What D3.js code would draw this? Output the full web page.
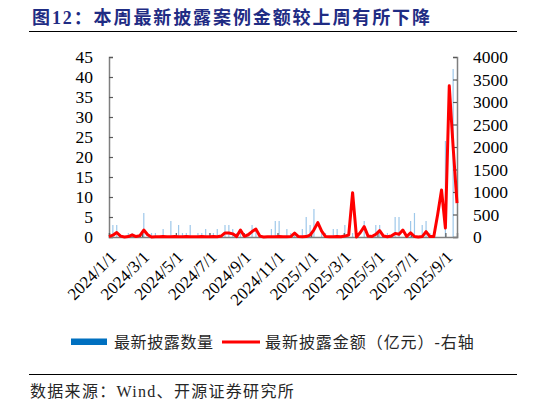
<!DOCTYPE html>
<html>
<head>
<meta charset="utf-8">
<script src="https://cdn.jsdelivr.net/npm/d3@7"></script>
<style>
  html, body { margin: 0; padding: 0; background: #fff; }
  svg { display: block; }
</style>
</head>
<body>
<svg id="chart" width="546" height="405"></svg>
<script>
// weekly data, first week starting 2024/1/1
const startDate = new Date(2024, 0, 1);
const weekCount = 91;

// 最新披露数量 (left axis)
const counts = [
  0, 3, 3, 0, 0, 1, 1, 0, 0, 6,
  0, 1, 1, 0, 2, 0, 4, 0, 3, 1,
  1, 3, 0, 1, 1, 2, 1, 1, 2, 0,
  3, 3, 2, 1, 2, 1, 0, 3, 2, 0,
  0, 0, 2, 4, 4, 0, 2, 1, 1, 0,
  2, 5, 3, 7, 0, 1, 1, 0, 2, 2,
  0, 3, 0, 1, 0, 0, 4, 0, 0, 3,
  3, 0, 1, 0, 5, 5, 0, 0, 4, 6,
  0, 3, 4, 1, 1, 0, 0, 24, 0, 42,
  0
];

// 最新披露金额（亿元） (right axis)
const amounts = [
  10, 40, 100, 20, 0, 10, 45, 10, 30, 155,
  50, 0, 5, 5, 10, 5, 5, 10, 5, 5,
  10, 5, 5, 5, 10, 5, 5, 10, 5, 20,
  90, 90, 70, 10, 155, 15, 50, 120, 175, 20,
  0, 5, 5, 5, 10, 5, 5, 10, 85, 10,
  5, 10, 40, 160, 320, 130, 10, 5, 5, 10,
  5, 20, 45, 985, 0, 100, 230, 20, 10, 60,
  140, 20, 5, 20, 80, 60, 155, 10, 95, 10,
  0, 10, 120, 10, 10, 500, 1045, 200, 3360, 2000,
  755
];

const leftTicks = [0, 5, 10, 15, 20, 25, 30, 35, 40, 45];
const rightTicks = [0, 500, 1000, 1500, 2000, 2500, 3000, 3500, 4000];
const dateTicks = [
  "2024/1/1", "2024/3/1", "2024/5/1", "2024/7/1", "2024/9/1", "2024/11/1",
  "2025/1/1", "2025/3/1", "2025/5/1", "2025/7/1", "2025/9/1"
];

const titleText = "图12：本周最新披露案例金额较上周有所下降";
const sourceText = "数据来源：Wind、开源证券研究所";
const legendBar = "最新披露数量";
const legendLine = "最新披露金额（亿元）-右轴";

const weeks = d3.timeMonday.range(startDate, d3.timeMonday.offset(startDate, weekCount));
const parseTick = d3.timeParse("%Y/%m/%d");

const svg = d3.select("#chart");
const font = "'Liberation Serif','Noto Sans CJK SC',serif";

const margin = { left: 109, right: 457, top: 57, bottom: 237 };

const x = d3.scaleTime()
  .domain([weeks[0], weeks[weeks.length - 1]])
  .range([margin.left, margin.right]);
const yLeft = d3.scaleLinear().domain([0, 45]).range([margin.bottom, margin.top]);
const yRight = d3.scaleLinear().domain([0, 4000]).range([margin.bottom, margin.top]);

// title + rule
svg.append("text")
  .attr("x", 32).attr("y", 24)
  .attr("font-family", font)
  .attr("font-weight", "bold")
  .attr("font-size", 18)
  .attr("letter-spacing", 1.9)
  .attr("fill", "#1f2c84")
  .text(titleText);

svg.append("line")
  .attr("x1", 29).attr("x2", 517)
  .attr("y1", 31.5).attr("y2", 31.5)
  .attr("stroke", "#000").attr("stroke-width", 1);

// bars
svg.append("g")
  .selectAll("rect")
  .data(counts)
  .join("rect")
  .attr("x", (d, i) => x(weeks[i]) - 0.6)
  .attr("width", 1.2)
  .attr("y", d => yLeft(d))
  .attr("height", d => yLeft(0) - yLeft(d))
  .attr("fill", "#9ec8ea");

// axes
const axisColor = "#7f7f7f";

const leftAxis = svg.append("g")
  .attr("transform", `translate(${margin.left},0)`)
  .call(d3.axisRight(yLeft).tickValues(leftTicks).tickSize(4).tickFormat(""));
const rightAxis = svg.append("g")
  .attr("transform", `translate(${margin.right},0)`)
  .call(d3.axisLeft(yRight).tickValues(rightTicks).tickSize(4).tickFormat(""));
const bottomAxis = svg.append("g")
  .attr("transform", `translate(0,${margin.bottom})`)
  .call(d3.axisTop(x).tickValues(dateTicks.map(parseTick)).tickSize(4).tickFormat(""));

[leftAxis, rightAxis, bottomAxis].forEach(g => {
  g.select(".domain").attr("stroke", axisColor).attr("stroke-width", 1.5);
  g.selectAll(".tick line").attr("stroke", "#595959").attr("stroke-width", 1.2);
});

svg.append("g")
  .selectAll("text")
  .data(leftTicks)
  .join("text")
  .attr("x", 93)
  .attr("y", d => yLeft(d))
  .attr("dy", "0.35em")
  .attr("text-anchor", "end")
  .attr("font-family", font)
  .attr("font-size", 17.5)
  .attr("fill", "#000")
  .text(d => d);

svg.append("g")
  .selectAll("text")
  .data(rightTicks)
  .join("text")
  .attr("x", 473)
  .attr("y", d => yRight(d))
  .attr("dy", "0.35em")
  .attr("font-family", font)
  .attr("font-size", 17.5)
  .attr("fill", "#000")
  .text(d => d);

svg.append("g")
  .selectAll("text")
  .data(dateTicks)
  .join("text")
  .attr("transform", d => `translate(${x(parseTick(d)) + 4},${margin.bottom + 17}) rotate(-45)`)
  .attr("text-anchor", "end")
  .attr("dy", "0.35em")
  .attr("font-family", font)
  .attr("font-size", 17)
  .attr("fill", "#000")
  .text(d => d);

// amount line
const line = d3.line()
  .x((d, i) => x(weeks[i]))
  .y(d => yRight(d));

svg.append("path")
  .datum(amounts)
  .attr("fill", "none")
  .attr("stroke", "#ff0000")
  .attr("stroke-width", 3)
  .attr("stroke-linejoin", "round")
  .attr("d", line);

// legend
svg.append("rect")
  .attr("x", 71).attr("y", 338.5)
  .attr("width", 36).attr("height", 6.5)
  .attr("fill", "#0070c0");
svg.append("text")
  .attr("x", 114).attr("y", 347.5)
  .attr("font-family", font)
  .attr("font-size", 16)
  .attr("letter-spacing", 0.6)
  .attr("fill", "#262626")
  .text(legendBar);

svg.append("line")
  .attr("x1", 222).attr("x2", 260)
  .attr("y1", 342).attr("y2", 342)
  .attr("stroke", "#ff0000").attr("stroke-width", 3);
svg.append("text")
  .attr("x", 265).attr("y", 347.5)
  .attr("font-family", font)
  .attr("font-size", 16)
  .attr("letter-spacing", 0.95)
  .attr("fill", "#262626")
  .text(legendLine);

// source
svg.append("line")
  .attr("x1", 29).attr("x2", 517)
  .attr("y1", 374.5).attr("y2", 374.5)
  .attr("stroke", "#000").attr("stroke-width", 1);
svg.append("text")
  .attr("x", 30).attr("y", 397)
  .attr("font-family", font)
  .attr("font-size", 16)
  .attr("letter-spacing", 1.3)
  .attr("fill", "#262626")
  .text(sourceText);
</script>
</body>
</html>
